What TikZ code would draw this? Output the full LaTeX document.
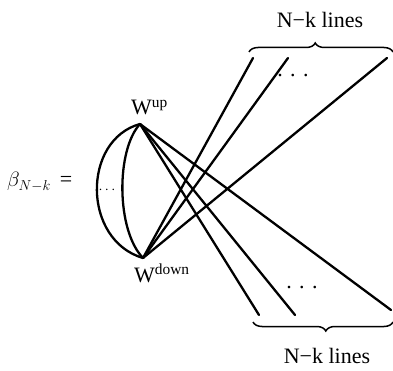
\documentclass[tikz,border=0pt]{standalone}
\usepackage{fontspec}
\setmainfont{Liberation Serif}
\usetikzlibrary{decorations.pathreplacing, positioning}

\begin{document}
\begin{tikzpicture}[
        x=1pt, y=-1pt,
        wire/.style={line width=2.3pt, line cap=round},
        lbl/.style={font=\fontsize{22}{24}\selectfont, inner sep=0pt},
        brc/.style={decorate, line width=1.5pt, decoration={brace, amplitude=9pt, aspect=#1}}
    ]
        \useasboundingbox (0,0) rectangle (393,371);
        \coordinate (up) at (140,124);
        \coordinate (down) at (143,258);
        \coordinate (t1) at (253,58);
        \coordinate (t2) at (288,58);
        \coordinate (t3) at (387,58);
        \coordinate (b1) at (259,315);
        \coordinate (b2) at (295,315);
        \coordinate (b3) at (391,310);

        \node[lbl, anchor=base west] (wup) at (131,115) {W\textsuperscript{up}};
        \node[lbl, anchor=base west] (wdown) at (134,282) {W\textsuperscript{down}};
        \node[lbl, anchor=base west] (beta) at (7,187) {$\beta_{N-k}$\hspace{9pt}=};
        \node[lbl] (ntop) at (320,20) {N−k lines};
        \node[lbl] (nbot) at (327,356) {N−k lines};
        \node[lbl] (dtop) at (293,76) {.\,\,.\,\,.};
        \node[lbl] (dbot) at (302,288) {.\,\,.\,\,.};
        \node[lbl, font=\fontsize{14}{16}\selectfont] (dleft) at (107,190) {$\cdots$};

        % the two arcs on the left
        \draw[wire] (up) .. controls (82,140) and (82,240) .. (down);
        \draw[wire] (up) .. controls (116,150) and (116,230) .. (down);

        % lines going up and down
        \foreach \t in {t1,t2,t3}
            \draw[wire] (down) -- (\t);
        \foreach \b in {b1,b2,b3}
            \draw[wire] (up) -- (\b);

        \draw[brc=0.46] (249,52) -- (393,52);
        \draw[brc=0.48] (393,322) -- (253,322);
    \end{tikzpicture}
\end{document}
